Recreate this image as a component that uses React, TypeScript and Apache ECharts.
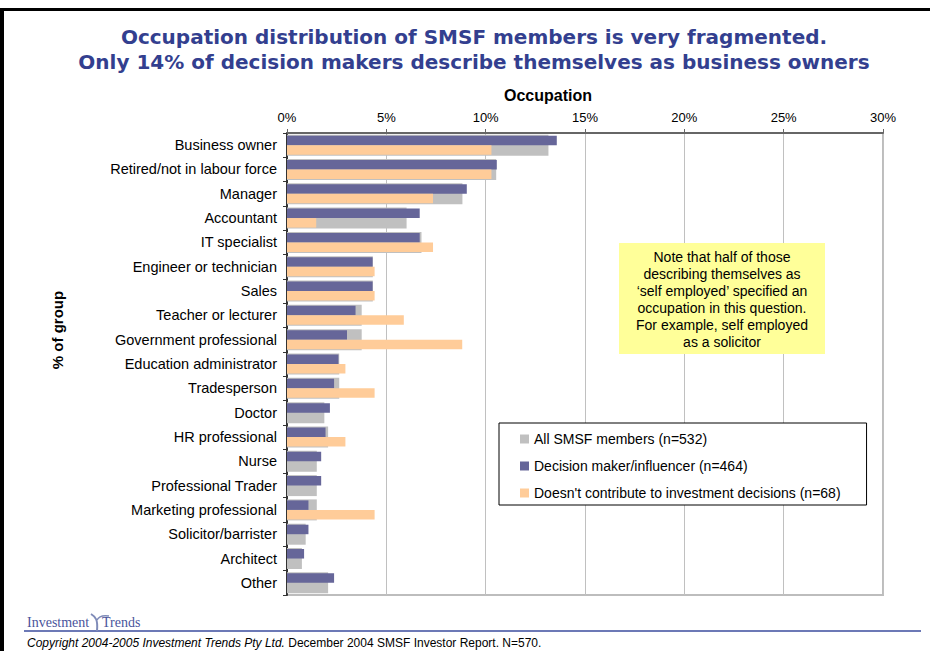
import React, { useEffect, useRef } from "react";
import * as echarts from "echarts";

const categories = [
  "Business owner",
  "Retired/not in labour force",
  "Manager",
  "Accountant",
  "IT specialist",
  "Engineer or technician",
  "Sales",
  "Teacher or lecturer",
  "Government professional",
  "Education administrator",
  "Tradesperson",
  "Doctor",
  "HR professional",
  "Nurse",
  "Professional Trader",
  "Marketing professional",
  "Solicitor/barrister",
  "Architect",
  "Other",
];

const allMembers = [13.16, 10.53, 8.83, 6.02, 6.77, 4.32, 4.32, 3.76, 3.76, 2.63, 2.63, 1.88, 2.07, 1.5, 1.5, 1.5, 0.94, 0.75, 2.07];
const decisionMakers = [13.58, 10.56, 9.05, 6.68, 6.68, 4.31, 4.31, 3.45, 3.02, 2.59, 2.37, 2.16, 1.94, 1.72, 1.72, 1.08, 1.08, 0.86, 2.37];
const nonContributors = [10.29, 10.29, 7.35, 1.47, 7.35, 4.41, 4.41, 5.88, 8.82, 2.94, 4.41, 0, 2.94, 0, 0, 4.41, 0, 0, 0];

const seriesNames = [
  "All SMSF members (n=532)",
  "Decision maker/influencer (n=464)",
  "Doesn't contribute to investment decisions (n=68)",
];

const titleLines = [
  "Occupation distribution of SMSF members is very fragmented.",
  "Only 14% of decision makers describe themselves as business owners",
];

const noteLines = [
  "Note that half of those",
  "describing themselves as",
  "\u2018self employed\u2019 specified an",
  "occupation in this question.",
  "For example, self employed",
  "as a solicitor",
];

const xAxisName = "Occupation";
const yAxisName = "% of group";

const SANS = '"Liberation Sans", Arial, sans-serif';

export default function App() {
  const ref = useRef<HTMLDivElement>(null);

  useEffect(() => {
    document.body.style.margin = "0";
    const chart = echarts.init(ref.current!, null, { renderer: "svg" });

    const option: any = {
      animation: false,
      backgroundColor: "#ffffff",
      grid: {
        left: 287,
        right: 47,
        top: 133,
        bottom: 56,
        show: true,
        borderColor: "#bdbdbd",
        borderWidth: 2,
        backgroundColor: "#ffffff",
      },
      legend: {
        orient: "vertical",
        left: 499,
        top: 423,
        data: seriesNames,
        icon: "rect",
        itemWidth: 9,
        itemHeight: 9,
        itemGap: 13,
        padding: [9, 26, 5, 21],
        borderColor: "#000000",
        borderWidth: 1,
        backgroundColor: "#ffffff",
        textStyle: { fontFamily: SANS, fontSize: 14, color: "#000" },
        selectedMode: false,
      },
      xAxis: {
        type: "value",
        position: "top",
        min: 0,
        max: 30,
        interval: 5,
        axisLabel: {
          formatter: "{value}%",
          fontFamily: SANS,
          fontSize: 13,
          color: "#000",
          margin: 9,
        },
        axisLine: { show: true, lineStyle: { color: "#666666", width: 2 } },
        axisTick: { show: true, length: 4, lineStyle: { color: "#666666" } },
        splitLine: { show: true, lineStyle: { color: "#c0c0c0", width: 1 } },
      },
      yAxis: [
        {
          type: "category",
          data: categories,
          inverse: true,
          axisLabel: {
            fontFamily: SANS,
            fontSize: 14.5,
            color: "#000",
            margin: 10,
          },
          axisLine: { show: true, lineStyle: { color: "#333333", width: 2 } },
          axisTick: { show: true, length: 4, lineStyle: { color: "#333333" } },
          splitLine: { show: false },
        },
        {
          type: "category",
          data: categories,
          inverse: true,
          position: "left",
          axisLabel: { show: false },
          axisLine: { show: false },
          axisTick: { show: false },
          splitLine: { show: false },
        },
      ],
      series: [
        {
          name: seriesNames[0],
          type: "bar",
          yAxisIndex: 0,
          data: allMembers,
          barWidth: 21,
          itemStyle: { color: "#c0c0c0" },
          z: 2,
        },
        {
          name: seriesNames[1],
          type: "bar",
          yAxisIndex: 1,
          data: decisionMakers,
          barWidth: 9.5,
          barGap: "0%",
          itemStyle: { color: "#666699" },
          z: 3,
        },
        {
          name: seriesNames[2],
          type: "bar",
          yAxisIndex: 1,
          data: nonContributors,
          barWidth: 9.5,
          barGap: "0%",
          itemStyle: { color: "#ffcc99" },
          z: 3,
        },
      ],
      graphic: [
        // frame
        { type: "rect", shape: { x: 0, y: 8, width: 930, height: 3 }, style: { fill: "#000" }, z: 100 },
        { type: "rect", shape: { x: 0, y: 8, width: 4, height: 643 }, style: { fill: "#000" }, z: 100 },
        // title
        {
          type: "text",
          z: 100,
          style: {
            text: titleLines[0],
            x: 474,
            y: 37,
            align: "center",
            verticalAlign: "middle",
            textAlign: "center",
            textVerticalAlign: "middle",
            font: 'bold 20px "DejaVu Sans", Verdana, sans-serif',
            fill: "#333f8f",
          },
        },
        {
          type: "text",
          z: 100,
          style: {
            text: titleLines[1],
            x: 474,
            y: 62,
            align: "center",
            verticalAlign: "middle",
            textAlign: "center",
            textVerticalAlign: "middle",
            font: 'bold 20px "DejaVu Sans", Verdana, sans-serif',
            fill: "#333f8f",
          },
        },
        // axis names
        {
          type: "text",
          z: 100,
          style: {
            text: xAxisName,
            x: 548,
            y: 95,
            align: "center",
            verticalAlign: "middle",
            textAlign: "center",
            textVerticalAlign: "middle",
            font: "bold 16px " + SANS,
            fill: "#000",
          },
        },
        {
          type: "text",
          z: 100,
          x: 57,
          y: 330,
          rotation: Math.PI / 2,
          style: {
            text: yAxisName,
            x: 0,
            y: 0,
            align: "center",
            verticalAlign: "middle",
            textAlign: "center",
            textVerticalAlign: "middle",
            font: "bold 15px " + SANS,
            fill: "#000",
          },
        },
        // note box
        {
          type: "rect",
          z: 100,
          shape: { x: 619, y: 243, width: 206, height: 111 },
          style: { fill: "#ffff99" },
        },
        {
          type: "text",
          z: 101,
          style: {
            text: noteLines.join("\n"),
            x: 722,
            y: 299,
            align: "center",
            verticalAlign: "middle",
            textAlign: "center",
            textVerticalAlign: "middle",
            font: "14px " + SANS,
            lineHeight: 17,
            fill: "#000",
          },
        },
        // footer
        {
          type: "line",
          z: 100,
          shape: { x1: 24, y1: 631, x2: 921, y2: 631 },
          style: { stroke: "#3b4c9e", lineWidth: 1.5 },
        },
        {
          type: "text",
          z: 100,
          style: {
            text: "Investment",
            x: 27,
            y: 629,
            align: "left",
            verticalAlign: "bottom",
            textAlign: "left",
            textVerticalAlign: "bottom",
            font: '14px "Liberation Serif", "DejaVu Serif", serif',
            fill: "#4a559c",
          },
        },
        {
          type: "text",
          z: 100,
          style: {
            text: "Trends",
            x: 102,
            y: 629,
            align: "left",
            verticalAlign: "bottom",
            textAlign: "left",
            textVerticalAlign: "bottom",
            font: '14px "Liberation Serif", "DejaVu Serif", serif',
            fill: "#4a559c",
          },
        },
        {
          type: "bezierCurve",
          z: 100,
          shape: { x1: 91, y1: 614, cpx1: 96, cpy1: 617, cpx2: 98, cpy2: 620, x2: 97, y2: 631 },
          style: { stroke: "#7f8bb8", lineWidth: 2, fill: null },
        },
        {
          type: "bezierCurve",
          z: 100,
          shape: { x1: 97, y1: 620, cpx1: 99, cpy1: 616, cpx2: 103, cpy2: 615, x2: 109, y2: 616 },
          style: { stroke: "#7f8bb8", lineWidth: 1.5, fill: null },
        },
        {
          type: "text",
          z: 100,
          style: {
            text: "{i|Copyright 2004-2005 Investment Trends Pty Ltd.} {n|December 2004 SMSF Investor Report. N=570.}",
            x: 27,
            y: 643,
            align: "left",
            verticalAlign: "middle",
            textAlign: "left",
            textVerticalAlign: "middle",
            rich: {
              i: { fontFamily: SANS, fontSize: 12, fontStyle: "italic", fill: "#000", color: "#000" },
              n: { fontFamily: SANS, fontSize: 12, fill: "#000", color: "#000" },
            },
            font: "12px " + SANS,
            fill: "#000",
          },
        },
      ],
    };

    chart.setOption(option);
    return () => chart.dispose();
  }, []);

  return <div ref={ref} style={{ width: 930, height: 651 }} />;
}
